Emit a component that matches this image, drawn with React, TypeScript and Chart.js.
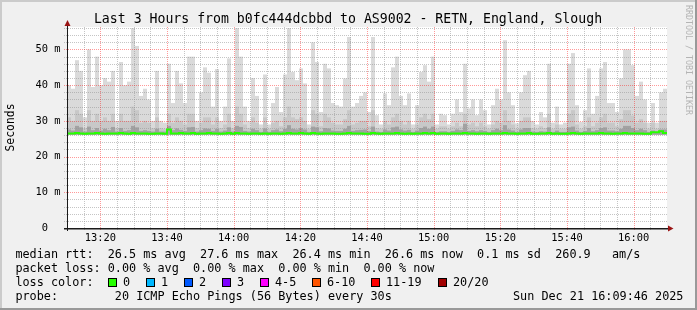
import React, { useEffect, useRef } from 'react';
import { Chart, registerables } from 'chart.js';

Chart.register(...registerables);

const TITLE = 'Last 3 Hours from b0fc444dcbbd to AS9002 - RETN, England, Slough';
const Y_AXIS_TITLE = 'Seconds';
const WATERMARK = 'RRDTOOL / TOBI OETIKER';

const Y_TICK_VALUES = [0, 10, 20, 30, 40, 50];
const Y_TICK_LABELS = ['0  ', '10 m', '20 m', '30 m', '40 m', '50 m'];
const Y_MAX = 56.3;
const Y_MINOR_STEP = 2;

// minutes after 13:10
const X_SPAN_MINUTES = 180;
const X_TICK_VALUES = [10, 30, 50, 70, 90, 110, 130, 150, 170];
const X_TICK_LABELS = ['13:20', '13:40', '14:00', '14:20', '14:40', '15:00', '15:20', '15:40', '16:00'];
const X_MINOR_STEP = 5;
const COLUMN_MINUTES = 1.2;

// smoke (ms)
const SMOKE_FLOOR = 26.1;
const SMOKE_MAX = [
  40, 39, 47, 44, 31, 50, 39.5, 48, 40, 42,
  41, 44, 30, 46.5, 40, 41, 56, 51, 37, 39,
  36, 30, 44, 30, 29.5, 46, 35, 44, 40.5, 35,
  48, 48, 30, 38, 45, 43.5, 34, 44.5, 30, 34,
  47.5, 30, 56, 48, 34, 30, 42, 37, 29, 43,
  29, 35, 39.5, 32.5, 43, 56, 43.7, 41.4, 44.7, 40.5,
  29, 52, 46.5, 32.5, 46, 44.7, 35, 34.4, 34, 41.9,
  53.5, 34, 35, 37, 38, 32.5, 53.5, 31.6, 29, 37.7,
  34.4, 45, 48, 37, 34.4, 37.7, 29, 34.4, 43.7, 45.6,
  41, 48, 29, 32, 31.6, 29, 32, 36, 32.5, 46,
  33.5, 36, 31.6, 36, 33, 29, 34.4, 39, 36, 52.6,
  38, 34.4, 29.3, 38, 42.8, 44, 30, 29, 32.5, 31,
  46, 29.5, 34, 29, 29.5, 46, 49, 34.4, 29.7, 33,
  44.7, 32, 37, 44.7, 46.5, 35, 35, 32.5, 41.9, 50,
  50, 45.6, 37, 41, 36, 29.5, 35, 29.5, 38, 39,
];
const SMOKE_MID = [
  31, 30, 33, 32, 28, 33, 30, 32, 30, 31,
  30, 32, 28, 32, 30, 30, 34, 33, 29.5, 30,
  29.5, 28, 31, 28, 27.8, 32, 29.5, 31, 30, 29,
  32, 32, 28, 29.5, 31, 31, 29, 31, 28, 29,
  32, 28, 34, 32, 29, 28, 31, 29.5, 27.8, 31,
  27.8, 29.5, 30, 28.5, 31, 34, 31, 30.5, 31, 30,
  27.8, 33, 32, 28.5, 32, 31, 29.5, 29, 29, 30.5,
  33, 29, 29.5, 30, 30, 28.5, 33, 28, 27.8, 30,
  29, 31, 32, 30, 29, 30, 27.8, 29, 31, 32,
  30.5, 32, 27.8, 28.5, 28.5, 27.8, 28.5, 29.5, 28.5, 32,
  29, 29.5, 28.5, 29.5, 28.5, 27.8, 29, 30, 29.5, 33,
  30, 29, 27.8, 30, 31, 31, 28, 27.8, 28.5, 28,
  32, 27.8, 29, 27.8, 27.8, 32, 33, 29, 27.8, 28.5,
  31, 28.5, 29.5, 31, 32, 29.5, 29.5, 28.5, 30.5, 33,
  33, 31.5, 29.5, 30.5, 29.5, 27.8, 29.5, 27.8, 30, 30,
];
const SMOKE_DARK = [
  27.6, 27.3, 28.6, 28.2, 27, 28.4, 27.4, 28, 27.3, 27.8,
  27.4, 28.3, 27, 28, 27.2, 27.4, 28.6, 28.2, 27.2, 27.4,
  27.2, 27, 27.8, 27, 27, 28.6, 27.4, 27.9, 27.5, 27.2,
  28.2, 28.3, 27, 27.4, 27.9, 27.8, 27.2, 27.8, 27, 27.3,
  28.2, 27, 28.6, 28.3, 27.2, 27, 27.8, 27.4, 26.9, 27.9,
  26.9, 27.4, 27.6, 27.1, 27.8, 28.8, 27.8, 27.6, 28, 27.6,
  26.9, 28.4, 28.2, 27.1, 28, 27.9, 27.3, 27.2, 27.2, 27.8,
  28.6, 27.2, 27.4, 27.5, 27.6, 27.1, 28.4, 27, 26.9, 27.6,
  27.3, 28.2, 28.4, 27.6, 27.3, 27.5, 26.9, 27.3, 28, 28.4,
  27.8, 28.4, 26.9, 27.1, 27.1, 26.9, 27.2, 27.6, 27.4, 29.2,
  27.2, 27.4, 27.1, 27.4, 27.2, 26.9, 27.4, 27.8, 27.4, 28.8,
  27.6, 27.3, 26.9, 27.6, 28, 28, 27, 26.9, 27.1, 27,
  28.2, 26.9, 27.3, 26.9, 26.9, 28.2, 28.4, 27.3, 26.9, 27.2,
  28, 27.1, 27.4, 28, 28.2, 27.3, 27.3, 27.1, 27.8, 28.6,
  28.6, 28, 27.4, 27.8, 27.4, 26.9, 27.3, 26.9, 27.6, 27.6,
];
const MEDIAN_RTT = [
  26.5, 26.5, 26.6, 26.5, 26.4, 26.5, 26.5, 26.6, 26.5, 26.4,
  26.5, 26.5, 26.5, 26.6, 26.5, 26.4, 26.6, 26.5, 26.5, 26.5,
  26.4, 26.4, 26.5, 26.5, 26.4, 27.6, 26.5, 26.5, 26.6, 26.5,
  26.5, 26.6, 26.4, 26.5, 26.5, 26.6, 26.5, 26.5, 26.4, 26.5,
  26.6, 26.4, 26.6, 26.5, 26.5, 26.4, 26.5, 26.5, 26.4, 26.5,
  26.4, 26.5, 26.5, 26.4, 26.5, 26.6, 26.5, 26.5, 26.6, 26.5,
  26.4, 26.6, 26.5, 26.4, 26.5, 26.5, 26.5, 26.4, 26.4, 26.5,
  26.6, 26.5, 26.5, 26.5, 26.4, 26.4, 26.6, 26.5, 26.4, 26.5,
  26.5, 26.5, 26.6, 26.5, 26.4, 26.5, 26.4, 26.5, 26.5, 26.6,
  26.5, 26.6, 26.4, 26.5, 26.5, 26.4, 26.5, 26.5, 26.5, 26.6,
  26.5, 26.5, 26.4, 26.5, 26.5, 26.4, 26.5, 26.5, 26.5, 26.6,
  26.5, 26.5, 26.4, 26.5, 26.5, 26.6, 26.4, 26.4, 26.5, 26.5,
  26.6, 26.4, 26.5, 26.4, 26.4, 26.5, 26.6, 26.5, 26.4, 26.5,
  26.5, 26.5, 26.5, 26.6, 26.5, 26.5, 26.4, 26.5, 26.5, 26.6,
  26.5, 26.5, 26.5, 26.5, 26.4, 26.4, 26.8, 26.8, 27.1, 26.6,
];

const LEGEND_RTT = 'median rtt:  26.5 ms avg  27.6 ms max  26.4 ms min  26.6 ms now  0.1 ms sd  260.9   am/s';
const LEGEND_LOSS = 'packet loss: 0.00 % avg  0.00 % max  0.00 % min  0.00 % now';
const LEGEND_COLOR_LABEL = 'loss color:';
const LOSS_LABELS = ['0', '1', '2', '3', '4-5', '6-10', '11-19', '20/20'];
const LOSS_COLORS = ['#26ff00', '#00b8ff', '#0059ff', '#7e00ff', '#ff00ff', '#ff5500', '#ff0000', '#a10000'];
const PROBE_LINE = 'probe:        20 ICMP Echo Pings (56 Bytes) every 30s';
const TIMESTAMP = 'Sun Dec 21 16:09:46 2025';

const MONO = '"DejaVu Sans Mono", monospace';
const MINOR_GRID = 'rgba(150,150,150,0.55)';
const MAJOR_GRID = 'rgba(255,0,0,0.4)';

// dotted line made of 1px dots, 1px apart
function dotsH(ctx: CanvasRenderingContext2D, x1: number, x2: number, y: number) {
  for (let x = x1; x < x2; x += 2) ctx.fillRect(x, y, 1, 1);
}
function dotsV(ctx: CanvasRenderingContext2D, x: number, y1: number, y2: number) {
  for (let y = y1; y < y2; y += 2) ctx.fillRect(x, y, 1, 1);
}

function drawGrid(chart: any) {
  const { ctx, chartArea: a } = chart;
  const xs = chart.scales.x;
  const ys = chart.scales.y;
  const left = Math.round(a.left);
  const right = Math.round(a.right);
  const top = Math.round(a.top);
  const bottom = Math.round(a.bottom);
  ctx.save();
  const pass = (major: boolean) => {
    ctx.fillStyle = major ? MAJOR_GRID : MINOR_GRID;
    for (let v = Y_MINOR_STEP; v < Y_MAX; v += Y_MINOR_STEP) {
      if (Y_TICK_VALUES.includes(v) !== major) continue;
      const py = Math.round(ys.getPixelForValue(v));
      dotsH(ctx, left - 3, right, py);
    }
    for (let m = X_MINOR_STEP; m < X_SPAN_MINUTES; m += X_MINOR_STEP) {
      if (X_TICK_VALUES.includes(m) !== major) continue;
      const px = Math.round(xs.getPixelForValue(m));
      dotsV(ctx, px, top, bottom + 3);
    }
  };
  pass(false);
  pass(true);
  ctx.restore();
}

function drawAxes(chart: any) {
  const { ctx, chartArea: a } = chart;
  const ys = chart.scales.y;
  const y0 = Math.round(ys.getPixelForValue(0));
  const x0 = Math.round(a.left) + 0.5;
  ctx.save();
  ctx.setLineDash([]);
  ctx.strokeStyle = '#1a1a1a';
  ctx.lineWidth = 1.5;
  ctx.beginPath();
  ctx.moveTo(a.left - 3, y0 + 0.75);
  ctx.lineTo(a.right + 2, y0 + 0.75);
  ctx.stroke();
  ctx.lineWidth = 1;
  ctx.beginPath();
  ctx.moveTo(x0, a.bottom + 3);
  ctx.lineTo(x0, a.top - 2);
  ctx.stroke();
  ctx.fillStyle = '#9a1414';
  ctx.beginPath();
  ctx.moveTo(a.right + 6.5, y0 + 0.5);
  ctx.lineTo(a.right + 1, y0 - 2.5);
  ctx.lineTo(a.right + 1, y0 + 3.5);
  ctx.closePath();
  ctx.fill();
  ctx.beginPath();
  ctx.moveTo(x0, a.top - 7);
  ctx.lineTo(x0 - 3, a.top - 1);
  ctx.lineTo(x0 + 3, a.top - 1);
  ctx.closePath();
  ctx.fill();
  ctx.restore();
}

function drawTexts(chart: any) {
  const { ctx } = chart;
  ctx.save();
  ctx.fillStyle = '#000';
  ctx.textBaseline = 'alphabetic';
  ctx.font = `13.2px ${MONO}`;
  ctx.textAlign = 'center';
  ctx.fillText(TITLE, 348, 23);

  ctx.font = `11.8px ${MONO}`;
  ctx.textAlign = 'left';
  const lx = 15.4;
  ctx.fillText(LEGEND_RTT, lx, 258);
  ctx.fillText(LEGEND_LOSS, lx, 272);
  ctx.fillText(LEGEND_COLOR_LABEL, lx, 286);
  const charW = ctx.measureText('0').width;
  let bx = Math.round(lx + 13 * charW);
  LOSS_LABELS.forEach((label, i) => {
    ctx.fillStyle = LOSS_COLORS[i];
    ctx.fillRect(bx, 278, 9, 9);
    ctx.strokeStyle = '#000';
    ctx.lineWidth = 1;
    ctx.strokeRect(bx + 0.5, 278.5, 8, 8);
    ctx.fillStyle = '#000';
    const tx = bx + 15;
    ctx.fillText(label, tx, 286);
    bx = Math.round(tx + ctx.measureText(label).width + 16);
  });
  ctx.fillText(PROBE_LINE, lx, 300);
  ctx.fillText(TIMESTAMP, 513, 300);

  ctx.translate(688, 5);
  ctx.rotate(Math.PI / 2);
  ctx.font = `8.3px ${MONO}`;
  ctx.fillStyle = '#b4b4b4';
  ctx.textBaseline = 'middle';
  ctx.fillText(WATERMARK, 0, 0);
  ctx.restore();
}

const rrdPlugin = {
  id: 'rrdDecor',
  beforeDraw(chart: any) {
    const { ctx, width, height, chartArea: a } = chart;
    ctx.save();
    ctx.fillStyle = '#f0f0f0';
    ctx.fillRect(0, 0, width, height);
    ctx.fillStyle = '#cbcbcb';
    ctx.fillRect(0, 0, width, 2);
    ctx.fillRect(0, 0, 2, height);
    ctx.fillStyle = '#999999';
    ctx.fillRect(0, height - 2, width, 2);
    ctx.fillRect(width - 2, 0, 2, height);
    ctx.fillStyle = '#ffffff';
    ctx.fillRect(a.left, a.top, a.right - a.left, a.bottom - a.top);
    ctx.restore();
  },
  beforeDatasetDraw(chart: any, args: any) {
    if (args.meta.type === 'line') drawGrid(chart);
  },
  afterDatasetsDraw(chart: any) {
    drawAxes(chart);
  },
  afterDraw(chart: any) {
    drawTexts(chart);
  },
};

export default function App() {
  const ref = useRef<HTMLCanvasElement>(null);
  useEffect(() => {
    document.body.style.margin = '0';
    const canvas = ref.current;
    if (!canvas) return;
    const centers = SMOKE_MAX.map((_, i) => (i + 0.5) * COLUMN_MINUTES);
    const layer = (tops: number[], color: string, order: number) => ({
      type: 'bar' as const,
      data: centers.map((x, i) => ({ x, y: [SMOKE_FLOOR, tops[i]] })),
      backgroundColor: color,
      borderWidth: 0,
      barThickness: 4,
      grouped: false,
      inflateAmount: 0,
      order,
    });
    const medianData = [
      { x: 0, y: MEDIAN_RTT[0] },
      ...centers.map((x, i) => ({ x, y: MEDIAN_RTT[i] })),
      { x: X_SPAN_MINUTES, y: MEDIAN_RTT[MEDIAN_RTT.length - 1] },
    ];
    const tickFont = { family: MONO, size: 10.4 };
    const chart = new Chart(canvas, {
      type: 'bar',
      data: {
        datasets: [
          layer(SMOKE_MAX, '#dadada', 4) as any,
          layer(SMOKE_MID, '#c8c8c8', 3) as any,
          layer(SMOKE_DARK, '#a2a2a2', 2) as any,
          {
            type: 'line',
            data: medianData,
            borderColor: '#26ff00',
            borderWidth: 2,
            pointRadius: 0,
            stepped: 'middle',
            fill: false,
            order: 0,
          } as any,
        ],
      },
      options: {
        responsive: false,
        devicePixelRatio: 1,
        animation: false,
        layout: { padding: { left: 0, right: 30, top: 27, bottom: 0 } },
        plugins: { legend: { display: false }, tooltip: { enabled: false }, title: { display: false } },
        scales: {
          x: {
            type: 'linear',
            offset: false,
            bounds: 'data',
            min: 0,
            max: X_SPAN_MINUTES,
            afterBuildTicks: (s: any) => {
              s.ticks = X_TICK_VALUES.map((v) => ({ value: v }));
            },
            afterFit: (s: any) => {
              s.height = 82;
            },
            grid: { display: false, drawTicks: false, offset: false },
            border: { display: false },
            ticks: {
              autoSkip: false,
              maxRotation: 0,
              padding: 4,
              color: '#000',
              font: tickFont,
              callback: (v: any) => X_TICK_LABELS[X_TICK_VALUES.indexOf(Number(v))],
            },
          },
          y: {
            type: 'linear',
            min: 0,
            max: Y_MAX,
            afterBuildTicks: (s: any) => {
              s.ticks = Y_TICK_VALUES.map((v) => ({ value: v }));
            },
            afterFit: (s: any) => {
              s.width = 67;
            },
            grid: { display: false, drawTicks: false },
            border: { display: false },
            ticks: {
              autoSkip: false,
              padding: 6.5,
              color: '#000',
              font: tickFont,
              callback: (v: any) => Y_TICK_LABELS[Y_TICK_VALUES.indexOf(Number(v))],
            },
            title: {
              display: true,
              text: Y_AXIS_TITLE,
              color: '#000',
              font: { family: MONO, size: 11.4 },
              padding: { top: 4, bottom: 0 },
            },
          },
        },
      },
      plugins: [rrdPlugin],
    });
    return () => chart.destroy();
  }, []);
  return <canvas ref={ref} width={697} height={310} style={{ display: 'block', width: 697, height: 310 }} />;
}
